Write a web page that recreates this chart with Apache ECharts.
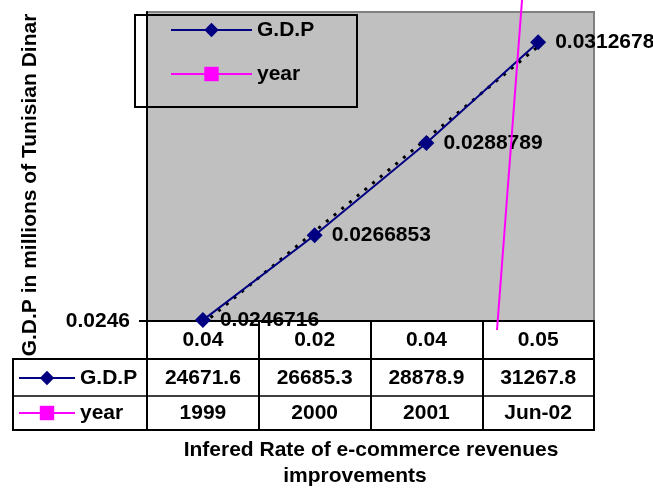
<!DOCTYPE html>
<html>
<head>
<meta charset="utf-8">
<script src="https://cdn.jsdelivr.net/npm/echarts@6/dist/echarts.min.js"></script>
<style>
    html, body { margin: 0; padding: 0; background: #fff; }
    #gdp-chart { width: 653px; height: 489px; }
</style>
</head>
<body>
<div id="gdp-chart"></div>
<script>
// data
var rateLabels = ['0.04', '0.02', '0.04', '0.05'];
var gdpLabels = ['24671.6', '26685.3', '28878.9', '31267.8'];
var yearLabels = ['1999', '2000', '2001', 'Jun-02'];
var gdpValues = [0.0246716, 0.0266853, 0.0288789, 0.0312678];
// linear trend of G.D.P (start / end)
var trendValues = [[0, 0.02458], [3, 0.03117]];
// the stray 'year' line (nearly vertical magenta stroke)
var yearTrace = [[2.632, 0.024436], [2.856, 0.032272]];
var yTickLabels = ['0.0246'];
var yMin = 0.02465, yMax = 0.031987;

var chart = echarts.init(document.getElementById('gdp-chart'));
var font = '"Liberation Sans", Arial, sans-serif';
var txt = { fontFamily: font, fontWeight: 'bold', fontSize: 21, color: '#000' };

var option = {
    animation: false,
    textStyle: { fontFamily: font },
    grid: {
        left: 147, right: 59, top: 12, bottom: 168,
        show: true,
        backgroundColor: '#c0c0c0',
        borderColor: '#808080',
        borderWidth: 2
    },
    legend: [
        {
            data: ['G.D.P', 'year'],
            orient: 'vertical',
            left: 165, top: 14,
            itemWidth: 81, itemHeight: 18, itemGap: 22,
            selectedMode: false,
            lineStyle: { width: 2 },
            textStyle: Object.assign({ lineHeight: 22 }, txt)
        },
        {
            data: ['G.D.P', 'year'],
            orient: 'vertical',
            left: 13, top: 362,
            itemWidth: 56, itemHeight: 18, itemGap: 13,
            selectedMode: false,
            lineStyle: { width: 2 },
            textStyle: Object.assign({ lineHeight: 22 }, txt)
        }
    ],
    xAxis: [
        {
            type: 'category',
            data: rateLabels,
            position: 'bottom',
            axisLine: { lineStyle: { color: '#000', width: 2 } },
            axisTick: { show: true, interval: 0, length: 109, lineStyle: { color: '#000', width: 2 } },
            axisLabel: Object.assign({ margin: 19, verticalAlign: 'middle', interval: 0 }, txt),
            splitLine: { show: false }
        },
        {
            type: 'category',
            data: gdpLabels,
            position: 'bottom',
            offset: 38,
            axisLine: { lineStyle: { color: '#000', width: 2 } },
            axisTick: { show: false },
            axisLabel: Object.assign({ margin: 19, verticalAlign: 'middle', interval: 0 }, txt)
        },
        {
            type: 'category',
            data: yearLabels,
            position: 'bottom',
            offset: 75,
            axisLine: { lineStyle: { color: '#000', width: 1.5 } },
            axisTick: { show: false },
            axisLabel: Object.assign({ margin: 17, verticalAlign: 'middle', interval: 0 }, txt)
        },
        {
            type: 'value',
            min: -0.5,
            max: 3.5,
            show: false
        }
    ],
    yAxis: {
        type: 'value',
        min: yMin,
        max: yMax,
        axisLine: { show: true, onZero: false, lineStyle: { color: '#000', width: 2 } },
        axisTick: { show: true, length: 8, customValues: [yMin], lineStyle: { color: '#000', width: 2 } },
        axisLabel: Object.assign({
            margin: 17,
            customValues: [yMin],
            formatter: function () { return yTickLabels[0]; }
        }, txt),
        splitLine: { show: false }
    },
    graphic: [
        // legend frame
        { type: 'rect', shape: { x: 135, y: 15, width: 222, height: 92 }, style: { fill: null, stroke: '#000', lineWidth: 2 }, z: 100 },
        // data-table rules on the left key column
        { type: 'line', shape: { x1: 13, y1: 359, x2: 147, y2: 359 }, style: { stroke: '#000', lineWidth: 2 } },
        { type: 'line', shape: { x1: 13, y1: 396, x2: 147, y2: 396 }, style: { stroke: '#000', lineWidth: 1.5 } },
        { type: 'line', shape: { x1: 13, y1: 430, x2: 595, y2: 430 }, style: { stroke: '#000', lineWidth: 2 } },
        { type: 'line', shape: { x1: 13, y1: 358, x2: 13, y2: 431 }, style: { stroke: '#000', lineWidth: 2 } },
        // axis titles
        {
            type: 'text', x: 30, y: 185, rotation: Math.PI / 2,
            style: { text: 'G.D.P in millions of Tunisian Dinar', align: 'center', verticalAlign: 'middle', fontFamily: font, fontWeight: 'bold', fontSize: 21, fill: '#000' }
        },
        {
            type: 'text', x: 371, y: 450,
            style: { text: 'Infered Rate of e-commerce revenues', align: 'center', verticalAlign: 'middle', fontFamily: font, fontWeight: 'bold', fontSize: 21, fill: '#000' }
        },
        {
            type: 'text', x: 355, y: 476,
            style: { text: 'improvements', align: 'center', verticalAlign: 'middle', fontFamily: font, fontWeight: 'bold', fontSize: 21, fill: '#000' }
        }
    ],
    series: [
        {
            name: 'trend',
            type: 'line',
            xAxisIndex: 3,
            data: trendValues,
            symbol: 'none',
            silent: true,
            lineStyle: { color: '#000', width: 3, type: [3, 7] },
            z: 1
        },
        {
            name: 'G.D.P',
            type: 'line',
            xAxisIndex: 0,
            data: gdpValues,
            symbol: 'diamond',
            symbolSize: 16,
            color: '#000080',
            lineStyle: { color: '#000080', width: 2 },
            label: Object.assign({ show: true, position: 'right', distance: 9 }, txt),
            z: 3
        },
        {
            name: 'year',
            type: 'line',
            xAxisIndex: 3,
            data: yearTrace,
            symbol: 'rect',
            symbolSize: 13,
            showSymbol: false,
            clip: false,
            color: '#ff00ff',
            lineStyle: { color: '#ff00ff', width: 2 },
            z: 4
        }
    ]
};

chart.setOption(option);
window.addEventListener('resize', function () {
    chart.resize();
});
</script>
</body>
</html>
